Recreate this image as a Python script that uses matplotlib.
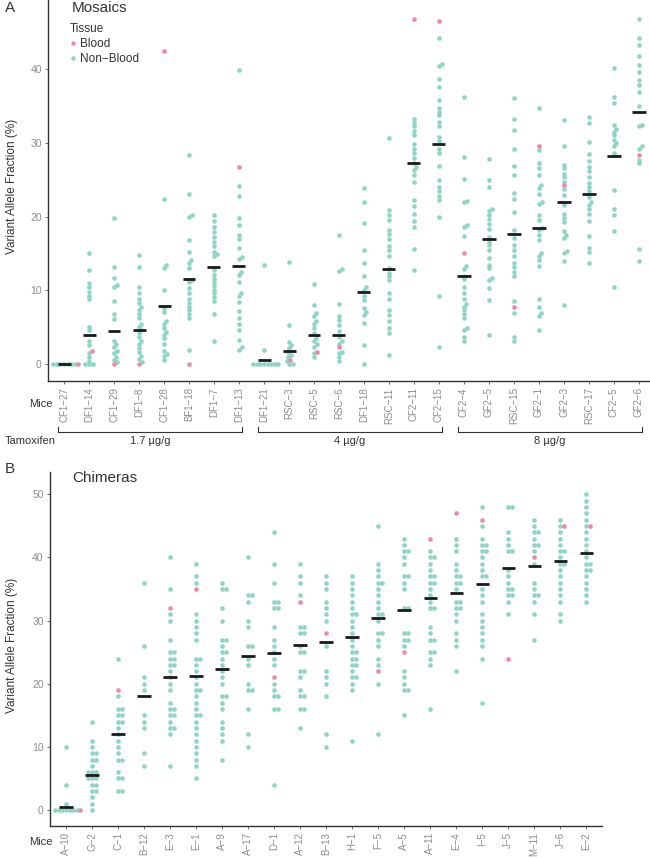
import numpy as np
import matplotlib
matplotlib.use('Agg')
import matplotlib.pyplot as plt
from matplotlib.lines import Line2D
import matplotlib.transforms as mtransforms

plt.rcParams['font.family'] = ['Liberation Sans', 'DejaVu Sans']

# ---------------- data ----------------
# A: mosaics
mosaic_mice = ['CF1-27', 'DF1-14', 'CF1-29', 'DF1-8', 'CF1-28', 'BF1-18', 'DF1-7', 'DF1-13',
               'DF1-21', 'RSC-3', 'RSC-5', 'RSC-6', 'DF1-18', 'RSC-11', 'CF2-11', 'CF2-15',
               'CF2-4', 'GF2-5', 'RSC-15', 'GF2-1', 'GF2-3', 'RSC-17', 'CF2-5', 'GF2-6']
mosaic_nonblood = [
    [0, 0, 0, 0, 0, 0, 0],
    [15.0, 12.8, 11.0, 10.4, 9.8, 9.3, 8.8, 5.1, 4.6, 3.1, 2.6, 1.5, 1.0, 0.5, 0, 0, 0],
    [19.8, 13.2, 11.7, 10.7, 10.4, 8.5, 6.8, 6.1, 3.2, 2.7, 2.3, 1.8, 1.5, 1.0, 0.6, 0.3],
    [14.8, 13.2, 10.4, 9.7, 8.8, 8.3, 7.8, 7.4, 6.8, 6.2, 5.5, 5.1, 4.6, 4.2, 3.7, 3.2, 2.8,
     2.2, 1.7, 1.1, 0.7, 0.3],
    [22.4, 13.4, 13.0, 10.1, 7.6, 7.1, 5.9, 5.5, 4.9, 4.4, 4.0, 3.5, 2.8, 1.8, 1.4, 1.1, 0.6],
    [28.3, 23.0, 20.2, 20.0, 16.8, 15.2, 14.1, 13.7, 13.0, 11.4, 11.1, 10.3, 9.6, 8.9, 8.3,
     7.8, 7.3, 6.8, 6.2, 2.0],
    [20.2, 19.4, 18.6, 17.9, 17.2, 16.6, 16.0, 15.2, 14.9, 14.6, 12.8, 12.1, 11.6, 11.1, 10.6,
     10.1, 9.6, 9.1, 8.5, 6.8, 3.2],
    [39.8, 24.1, 22.8, 19.8, 18.9, 17.5, 17.0, 15.7, 14.5, 14.2, 12.5, 12.1, 11.1, 9.6, 9.2,
     8.4, 7.2, 6.2, 5.5, 4.7, 3.3, 2.3, 2.0],
    [13.4, 1.9, 0, 0, 0, 0, 0, 0, 0, 0],
    [13.9, 5.3, 3.0, 2.6, 2.2, 1.6, 1.3, 1.0, 0.4, 0.1, 0],
    [10.8, 8.0, 6.9, 6.5, 5.9, 5.5, 4.9, 4.3, 3.5, 3.1, 2.7, 2.4, 1.5, 1.0],
    [17.5, 12.9, 12.6, 8.1, 6.5, 6.0, 5.3, 4.5, 3.7, 3.1, 2.8, 1.7, 1.5, 1.0, 0.4],
    [23.8, 22.0, 19.1, 15.5, 13.7, 11.9, 10.4, 10.0, 9.2, 8.7, 7.6, 7.1, 6.7, 5.6, 2.6, 0.0],
    [30.6, 20.9, 20.2, 19.5, 18.2, 17.7, 16.9, 16.0, 15.5, 14.6, 13.0, 12.4, 11.9, 11.4, 9.6,
     8.9, 7.4, 6.7, 5.8, 4.9, 4.2, 1.3],
    [33.2, 32.7, 32.2, 31.6, 31.0, 29.8, 29.1, 28.6, 27.9, 27.3, 26.7, 26.3, 25.6, 24.7, 22.3,
     21.4, 20.4, 19.4, 18.6, 15.6, 12.7],
    [44.2, 40.7, 40.4, 38.6, 37.5, 35.8, 34.7, 34.2, 33.7, 32.8, 32.2, 30.8, 30.2, 29.2, 28.6,
     26.8, 24.9, 24.0, 23.4, 22.8, 22.3, 20.0, 9.3, 2.4],
    [36.2, 28.0, 25.1, 22.1, 21.9, 18.9, 18.6, 17.4, 13.3, 12.9, 12.0, 11.5, 10.4, 9.7, 8.9,
     8.2, 7.8, 7.3, 6.8, 6.2, 4.9, 4.6, 3.7, 3.1],
    [27.8, 24.9, 24.0, 21.0, 20.7, 20.2, 19.6, 19.0, 18.3, 17.2, 16.6, 16.1, 15.5, 14.4, 13.5,
     13.0, 11.7, 11.4, 10.3, 8.7, 4.0],
    [36.1, 33.2, 31.7, 29.2, 26.9, 25.6, 23.2, 22.4, 20.6, 18.2, 17.1, 16.1, 15.5, 14.7, 13.7,
     13.2, 12.5, 12.0, 8.5, 6.9, 3.7, 3.2],
    [34.7, 29.0, 27.2, 26.5, 25.6, 24.3, 23.9, 23.1, 22.0, 21.7, 20.2, 19.5, 18.5, 18.2, 17.5,
     16.8, 15.0, 14.6, 14.1, 13.3, 8.8, 7.8, 6.9, 6.5, 4.7],
    [33.1, 29.6, 27.0, 26.5, 25.8, 25.3, 24.7, 23.7, 22.9, 21.5, 20.4, 19.8, 19.3, 18.0, 17.5,
     17.1, 15.4, 15.1, 14.0, 8.0],
    [33.5, 32.7, 30.1, 28.4, 27.5, 26.7, 26.1, 25.3, 24.6, 24.0, 23.5, 22.7, 22.0, 21.6, 21.0,
     20.4, 19.4, 17.4, 15.7, 15.2, 13.7],
    [40.1, 36.2, 35.3, 32.4, 31.9, 31.5, 31.0, 30.4, 29.9, 29.5, 28.6, 23.6, 21.0, 20.2, 18.0, 10.4],
    [46.7, 44.2, 43.2, 41.7, 40.5, 39.6, 38.5, 37.8, 36.9, 35.0, 32.4, 32.2, 29.5, 29.2, 27.7,
     27.2, 15.6, 14.0],
]
mosaic_blood = [[0], [1.8], [0], [0], [42.4], [0], [], [26.7], [], [0.6], [1.7], [2.3],
                [], [], [46.7], [46.5], [15.0], [], [7.8], [29.6], [24.2], [], [], [28.3]]
mosaic_mean = [0.0, 3.9, 4.5, 4.7, 7.9, 11.6, 13.2, 13.3, 0.55, 1.8, 3.9, 4.0,
               9.8, 12.9, 27.3, 29.8, 12.0, 16.9, 17.6, 18.5, 22.0, 23.0, 28.2, 34.1]
dose_labels = ['1.7 µg/g', '4 µg/g', '8 µg/g']
dose_first = [0, 8, 16]
dose_last = [7, 15, 23]

# B: chimeras
chimera_mice = ['A-10', 'G-2', 'C-1', 'B-12', 'E-3', 'E-1', 'A-9', 'A-17', 'D-1', 'A-12', 'B-13',
                'H-1', 'F-5', 'A-5', 'A-11', 'E-4', 'I-5', 'J-5', 'M-11', 'J-6', 'E-2']
chimera_nonblood = [
    [10, 4, 1, 0, 0, 0, 0, 0, 0, 0],
    [14, 11, 10, 9, 9, 8, 8, 7, 6, 6, 6, 5, 5, 5, 4, 4, 3, 3, 2, 1, 0],
    [24, 18, 16, 16, 15, 15, 14, 14, 13, 12, 11, 10, 9, 8, 8, 6, 5, 5, 3, 3],
    [36, 26, 21, 20, 19, 15, 14, 13, 9, 7],
    [40, 35, 31, 30, 27, 25, 25, 24, 24, 23, 23, 22, 21, 20, 19, 17, 16, 16, 15, 15, 14, 13, 13, 12, 7],
    [39, 37, 36, 31, 30, 29, 28, 27, 24, 24, 23, 22, 21, 20, 19, 19, 18, 17, 16, 15, 15, 14, 13,
     12, 11, 10, 9, 8, 7, 5],
    [36, 35, 35, 32, 30, 27, 27, 26, 25, 25, 24, 23, 22, 21, 20, 18, 18, 17, 16, 14, 13, 12, 11, 8],
    [40, 34, 34, 33, 30, 29, 26, 26, 24, 23, 20, 19, 19, 16, 12, 10],
    [44, 39, 36, 33, 33, 32, 32, 29, 27, 26, 25, 24, 23, 20, 19, 18, 18, 16, 16, 4],
    [39, 37, 36, 34, 29, 29, 28, 28, 26, 25, 25, 22, 22, 21, 19, 18, 18, 16, 16, 13],
    [37, 36, 35, 33, 32, 31, 30, 26, 22, 21, 20, 18, 12, 10],
    [37, 36, 35, 34, 33, 32, 31, 31, 30, 29, 28, 27, 26, 25, 25, 24, 24, 23, 23, 22, 21, 21, 20, 19, 11],
    [45, 39, 38, 37, 36, 36, 35, 34, 33, 32, 31, 31, 30, 28, 28, 27, 26, 24, 23, 20, 12],
    [43, 42, 41, 41, 40, 39, 37, 37, 36, 35, 32, 32, 28, 28, 27, 27, 26, 22, 21, 20, 19, 19, 15],
    [41, 40, 40, 39, 38, 37, 37, 36, 36, 35, 34, 33, 32, 32, 29, 28, 27, 27, 25, 25, 24, 23, 16],
    [43, 42, 41, 39, 38, 37, 37, 36, 36, 35, 33, 33, 32, 32, 31, 30, 28, 27, 26, 22],
    [48, 45, 43, 42, 42, 41, 41, 40, 39, 38, 37, 37, 35, 34, 33, 31, 30, 29, 28, 27, 26, 24, 17],
    [48, 48, 44, 43, 42, 41, 41, 38, 37, 36, 35, 35, 34, 34, 33, 31],
    [46, 45, 44, 44, 43, 42, 42, 41, 39, 36, 35, 34, 34, 33, 31, 27],
    [46, 45, 44, 43, 42, 41, 41, 40, 39, 39, 38, 37, 36, 35, 34, 33, 31, 30],
    [50, 49, 48, 47, 46, 45, 44, 43, 42, 41, 40, 39, 39, 38, 38, 37, 36, 35, 34, 33],
]
chimera_blood = [[0], [], [19], [], [32], [35], [], [], [21], [33], [28], [], [22], [25],
                 [43], [47], [46], [24], [40], [45], [45]]
chimera_mean = [0.5, 5.5, 12.1, 18.0, 21.1, 21.2, 22.4, 24.4, 24.8, 26.2, 26.6, 27.4, 30.4,
                31.7, 33.6, 34.3, 35.8, 38.3, 38.7, 39.4, 40.7]

TEAL = '#8fd5c5'
PINK = '#eb8aa2'
GREY = '#8c8c8c'
DARK = '#333333'

W, H = 650, 858
fig = plt.figure(figsize=(6.5, 8.58), dpi=100)


def px_box(x0, y0, x1, y1):
    return [x0 / W, 1 - y1 / H, (x1 - x0) / W, (y1 - y0) / H]


def swarm(vals, blood_flag, ppx, ppy, d=3.6):
    # simple beeswarm in pixel space, returns x offsets in data units
    y = np.asarray(vals, float) * ppy
    order = np.lexsort((blood_flag, y))
    placed = []
    out = np.zeros(len(y))
    for i in order:
        cands = [0.0]
        for px, py in placed:
            dy = abs(y[i] - py)
            if dy < d:
                dx = np.sqrt(d * d - dy * dy)
                cands += [px + dx, px - dx]
        cands.sort(key=lambda c: (round(abs(c), 6), -c))
        for c in cands:
            if all((c - px) ** 2 + (y[i] - py) ** 2 >= d * d - 1e-6 for px, py in placed):
                break
        placed.append((c, y[i]))
        out[i] = c / ppx
    return out


def panel(ax, mice, nonblood, blood, means, xlim, ylim, yticks):
    ax.set_xlim(*xlim)
    ax.set_ylim(*ylim)
    p = ax.transData.transform([(0, 0), (1, 1)])
    ppx, ppy = p[1, 0] - p[0, 0], p[1, 1] - p[0, 1]
    for i in range(len(mice)):
        v = np.array(nonblood[i] + blood[i], float)
        f = np.array([0] * len(nonblood[i]) + [1] * len(blood[i]))
        x = i + swarm(v, f, ppx, ppy)
        ax.scatter(x[f == 0], v[f == 0], s=11, color=TEAL, linewidths=0, zorder=2, clip_on=False)
        ax.scatter(x[f == 1], v[f == 1], s=11, color=PINK, linewidths=0, zorder=3, clip_on=False)
    idx = np.arange(len(mice))
    ax.hlines(means, idx - 0.26, idx + 0.26, color='#1a1a1a', lw=2.0, zorder=4)
    ax.set_xticks(idx)
    ax.set_xticklabels([m.replace('-', '\u2212') for m in mice], rotation=90,
                       fontsize=7, color=GREY)
    ax.set_yticks(yticks)
    ax.set_yticklabels([str(t) for t in yticks], fontsize=7.5, color=GREY)
    ax.tick_params(length=2.5, width=0.6, color='#555555', pad=2)
    for s in ['top', 'right']:
        ax.spines[s].set_visible(False)
    for s in ['left', 'bottom']:
        ax.spines[s].set_color(DARK)
        ax.spines[s].set_linewidth(1.0)
    ax.patch.set_alpha(0)


axA = fig.add_axes(px_box(48, 0, 650, 381))
panel(axA, mosaic_mice, mosaic_nonblood, mosaic_blood, mosaic_mean,
      (-0.64, 23.44), (-2.26, 49.3), [0, 10, 20, 30, 40])

axB = fig.add_axes(px_box(50, 472, 602, 826))
panel(axB, chimera_mice, chimera_nonblood, chimera_blood, chimera_mean,
      (-0.615, 20.6), (-2.53, 53.54), [0, 10, 20, 30, 40, 50])


def ftext(x, y, s, **kw):
    return fig.text(x / W, 1 - y / H, s, **kw)


# panel letters / titles
ftext(5, 8, 'A', fontsize=11, color=DARK, va='center')
ftext(72, 8, 'Mosaics', fontsize=11, color=DARK, va='center')
ftext(5, 469, 'B', fontsize=11, color=DARK, va='center')
ftext(72, 478, 'Chimeras', fontsize=11, color=DARK, va='center')

ftext(12, 186, 'Variant Allele Fraction (%)', rotation=90, fontsize=8.5, color=DARK,
      ha='center', va='center')
ftext(12, 645, 'Variant Allele Fraction (%)', rotation=90, fontsize=8.5, color=DARK,
      ha='center', va='center')
ftext(53, 404, 'Mice', fontsize=8, color=DARK, ha='right', va='center')
ftext(53, 842, 'Mice', fontsize=8, color=DARK, ha='right', va='center')
ftext(5, 441, 'Tamoxifen', fontsize=8, color=DARK, ha='left', va='center')

# dose brackets under panel A
tr = mtransforms.blended_transform_factory(axA.transData, axA.transAxes)
yb = (381 - 432) / 381.0
yt = (381 - 427) / 381.0
ylab = (381 - 441) / 381.0
for lab, i0, i1 in zip(dose_labels, dose_first, dose_last):
    x0, x1 = i0 - 0.25, i1 + 0.12
    axA.plot([x0, x0, x1, x1], [yt, yb, yb, yt], color=DARK, lw=0.8,
             transform=tr, clip_on=False)
    axA.text((x0 + x1) / 2, ylab, lab, transform=tr, fontsize=8, color=DARK,
             ha='center', va='center')

# legend
handles = [Line2D([], [], marker='o', ls='', ms=3.2, mfc=PINK, mec='none', label='Blood'),
           Line2D([], [], marker='o', ls='', ms=3.2, mfc=TEAL, mec='none', label='Non\u2212Blood')]
leg = axA.legend(handles=handles, title='Tissue', loc='upper left',
                 bbox_to_anchor=(70 / W, 1 - 23 / H), bbox_transform=fig.transFigure,
                 frameon=False, fontsize=8.5, title_fontsize=8.5, borderpad=0,
                 handlelength=0.5, handletextpad=0.35, labelspacing=0.25, borderaxespad=0)
leg._legend_box.align = 'left'
for t in leg.get_texts():
    t.set_color(DARK)
leg.get_title().set_color(DARK)

fig.savefig('out.png', dpi=100)
